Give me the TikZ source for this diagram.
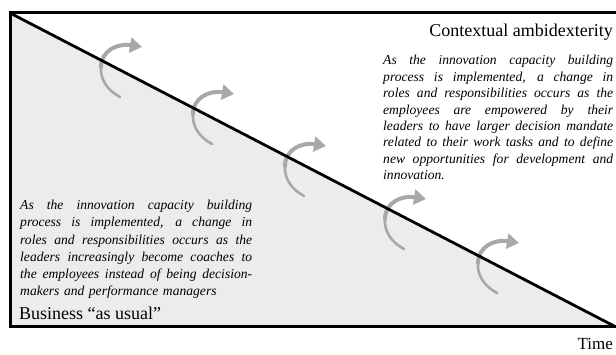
\documentclass[tikz,border=0pt]{standalone}
\usepackage{fontspec}
\setmainfont{Liberation Serif}
\usetikzlibrary{arrows.meta}
\definecolor{bgfill}{RGB}{236,236,236}
\definecolor{arrowgray}{RGB}{168,168,168}
\newcommand\myjline[1]{\makebox[\linewidth][s]{\spaceskip=0pt\xspaceskip=0pt\relax #1}}
\begin{document}
\begin{tikzpicture}[x=1pt,y=-1pt,
  frame/.style={line width=3pt},
  diag/.style={line width=2.8pt},
  turnshaft/.style={draw=arrowgray, line cap=round},
  paratext/.style={inner sep=0pt, anchor=base west, font=\fontsize{13.6}{17.3}\selectfont\itshape},
  biglabel/.style={inner sep=0pt, font=\fontsize{18}{21}\selectfont},
  pics/turnarrow/.style={code={
    \draw[turnshaft, line width=2.6pt] (19,30) .. controls (6,23) and (-1,12) .. (0,0);
    \draw[turnshaft, line width=4pt, -{Triangle[width=15pt,length=12pt]}] (0,0) .. controls (0,-16) and (16,-24) .. (41,-20);
  }}]
\useasboundingbox (0,0) rectangle (616,355);
\coordinate (tl) at (10,13);
\coordinate (bl) at (10,327);
\coordinate (br) at (616,327);
\coordinate (trr) at (620,13);
\coordinate (brr) at (620,327);
\fill[bgfill] (tl) -- (br) -- (bl) -- cycle;
\pic at (101,67) {turnarrow};
\pic at (193,114) {turnarrow};
\pic at (285,166) {turnarrow};
\pic at (385,219) {turnarrow};
\pic at (478,263) {turnarrow};
\draw[frame] (trr) -- (tl) -- (bl) -- (brr);
\draw[diag] (tl) -- (br);
\node[biglabel, anchor=base east] (title) at (613,37) {Contextual ambidexterity};
\node[paratext, text width=230pt, font=\fontsize{13.6}{16.4}\selectfont\itshape] (ctx) at (383,65) {%
\myjline{As the innovation capacity building}\\
\myjline{process is implemented, a change in}\\
\myjline{roles and responsibilities occurs as the}\\
\myjline{employees are empowered by their}\\
\myjline{leaders to have larger decision mandate}\\
\myjline{related to their work tasks and to define}\\
\myjline{new opportunities for development and}\\
innovation.};
\node[paratext, text width=232pt] (bautext) at (20,209.5) {%
\myjline{As the innovation capacity building}\\
\myjline{process is implemented, a change in}\\
\myjline{roles and responsibilities occurs as the}\\
\myjline{leaders increasingly become coaches to}\\
\myjline{the employees instead of being decision-}\\
makers and performance managers};
\node[biglabel, anchor=base west] (bau) at (19,320) {Business “as usual”};
\node[biglabel, anchor=base east, font=\fontsize{17}{20}\selectfont] (time) at (613,350) {Time};
\end{tikzpicture}
\end{document}
